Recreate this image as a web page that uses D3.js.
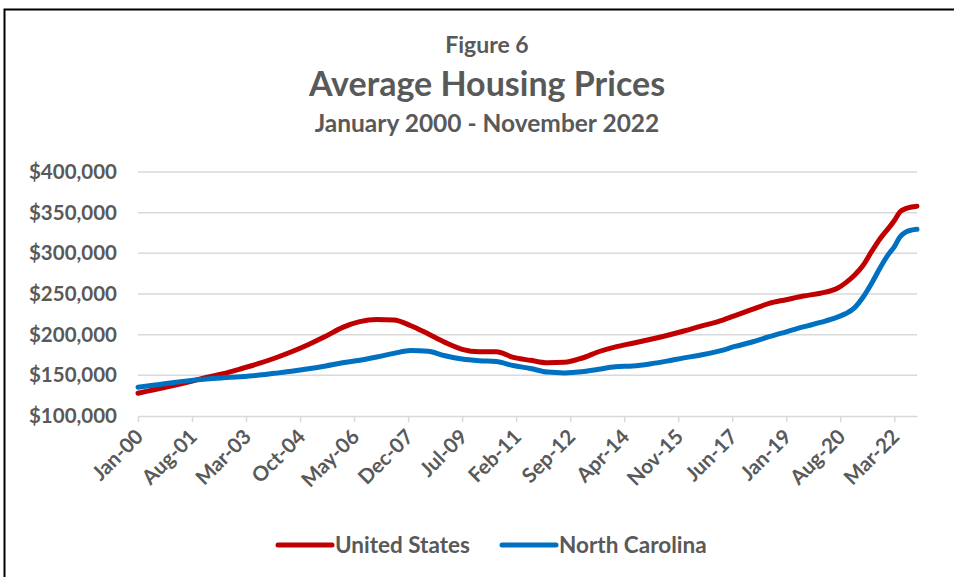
<!DOCTYPE html>
<html><head><meta charset="utf-8">
<script src="https://cdn.jsdelivr.net/npm/d3@7"></script>
<style>
html,body{margin:0;padding:0;background:#fff;}
svg{display:block;}
text{font-family:Lato,"Open Sans",sans-serif;fill:#595959;}
</style></head>
<body>
<svg id="chart" width="954" height="577"></svg>
<script>
// ---- data ----
const sampleMonths = ["2000-01","2000-07","2001-01","2001-07","2002-01","2002-07","2003-01","2003-07","2004-01","2004-07",
"2005-01","2005-07","2006-01","2006-07","2007-01","2007-07","2008-01","2008-07","2009-01","2009-07",
"2010-01","2010-07","2011-01","2011-07","2012-01","2012-07","2013-01","2013-07","2014-01","2014-07",
"2015-01","2015-07","2016-01","2016-07","2017-01","2017-07","2018-01","2018-07","2019-01","2019-07",
"2020-01","2020-07","2020-10","2021-01","2021-04","2021-07","2021-10","2022-01","2022-03","2022-05",
"2022-07","2022-09","2022-11"];
const usValues = [128000,132500,137000,142000,147500,152000,157800,164000,171000,179000,
188000,198000,209000,216000,218500,218000,211000,201000,190500,182000,
179000,179000,172000,168500,165500,166000,171000,179000,185000,189500,
194000,199000,204500,210500,216000,223500,231000,238500,243000,247500,
251000,257000,264000,273000,285000,302000,318000,331000,340000,351000,
355000,357000,358000];
const ncValues = [135300,138000,141000,143500,145500,147000,148300,150000,152500,155000,
158000,161500,165500,168500,172500,177000,180500,179500,174000,170000,
168000,167000,162000,158500,154000,153000,154300,157500,160500,161500,
164000,167500,171500,175000,179500,185500,191000,197500,203500,209500,
215000,221500,226000,233000,246000,263000,282000,299000,308000,320000,
326000,328500,329500];
const seriesNames = ["United States","North Carolina"];
const seriesColors = ["#C00000","#0070C0"];
const yTicks = [100000,150000,200000,250000,300000,350000,400000];
const xTickLabels = ["Jan-00","Aug-01","Mar-03","Oct-04","May-06","Dec-07","Jul-09","Feb-11","Sep-12","Apr-14","Nov-15","Jun-17","Jan-19","Aug-20","Mar-22"];
const firstMonth = "2000-01", lastMonth = "2022-11";
const titleLines = ["Figure 6","Average Housing Prices","January 2000 - November 2022"];

// ---- helpers ----
const monthIndex = s => { const [y,m] = s.split("-").map(Number); return (y-2000)*12 + (m-1); };
const monNames = ["Jan","Feb","Mar","Apr","May","Jun","Jul","Aug","Sep","Oct","Nov","Dec"];
const labelIndex = l => { const [mn,yy] = l.split("-"); return (Number(yy))*12 + monNames.indexOf(mn); };

const svg = d3.select("#chart");
// border
svg.append("path").attr("d","M4.5,577 L4.5,9.5 L954,9.5").attr("fill","none").attr("stroke","#000").attr("stroke-width",2);

// titles
svg.append("text").attr("x",487).attr("y",53).attr("text-anchor","middle").attr("font-size",23).attr("font-weight",700).text(titleLines[0]);
svg.append("text").attr("x",487).attr("y",96).attr("text-anchor","middle").attr("font-size",34).attr("font-weight",700).text(titleLines[1]);
svg.append("text").attr("x",487).attr("y",132).attr("text-anchor","middle").attr("font-size",24.5).attr("font-weight",700).text(titleLines[2]);

const x = d3.scaleLinear().domain([monthIndex(firstMonth), monthIndex(lastMonth)]).range([138,917]);
const y = d3.scaleLinear().domain([100000,400000]).range([416,172]);

// gridlines
svg.append("g").selectAll("line").data(yTicks.slice(1)).join("line")
  .attr("x1",138).attr("x2",917).attr("y1",d=>y(d)).attr("y2",d=>y(d))
  .attr("stroke","#d9d9d9").attr("stroke-width",1.5);

// y axis labels
const yAxis = svg.append("g").attr("transform","translate(138,0)")
  .call(d3.axisLeft(y).tickValues(yTicks).tickSize(0).tickPadding(21).tickFormat(d=>"$"+d3.format(",")(d)));
yAxis.select(".domain").remove();
yAxis.selectAll("text").attr("font-size",20.5).attr("font-weight",700).attr("fill","#595959").style("font-family","Lato");

// x axis
const xAxis = svg.append("g").attr("transform","translate(0,416)")
  .call(d3.axisBottom(x).tickValues(xTickLabels.map(labelIndex)).tickSize(6).tickSizeOuter(0)
     .tickFormat((d,i)=>xTickLabels[i]));
xAxis.select(".domain").attr("stroke","#d9d9d9").attr("stroke-width",1.5);
xAxis.selectAll(".tick line").attr("stroke","#d9d9d9").attr("stroke-width",1.5);
xAxis.selectAll(".tick text").attr("font-size",20.5).attr("font-weight",700).attr("fill","#595959").style("font-family","Lato")
  .attr("text-anchor","end").attr("dx",null).attr("dy",null)
  .attr("transform","translate(6,22) rotate(-45)").attr("y",0).attr("x",0);

// lines
const line = d3.line().x(d=>x(monthIndex(d[0]))).y(d=>y(d[1])).curve(d3.curveMonotoneX);
[usValues, ncValues].forEach((vals,k)=>{
  svg.append("path").datum(sampleMonths.map((m,i)=>[m,vals[i]]))
    .attr("d",line).attr("fill","none").attr("stroke",seriesColors[k]).attr("stroke-width",5)
    .attr("stroke-linejoin","round").attr("stroke-linecap","round");
});

// legend
const legendX = [278, 502];
seriesNames.forEach((n,k)=>{
  svg.append("line").attr("x1",legendX[k]).attr("x2",legendX[k]+54).attr("y1",545).attr("y2",545)
    .attr("stroke",seriesColors[k]).attr("stroke-width",5).attr("stroke-linecap","round");
  svg.append("text").attr("x",legendX[k]+57).attr("y",553).attr("font-size",22.5).attr("font-weight",700).text(n);
});
</script>
</body></html>
